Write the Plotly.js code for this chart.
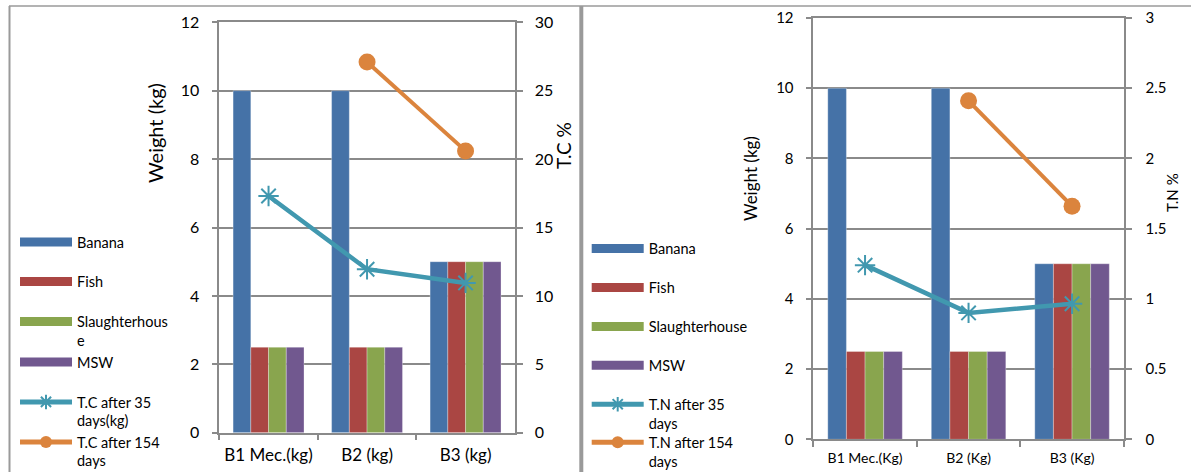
<!DOCTYPE html>
<html>
<head>
<meta charset="utf-8">
<script src="https://cdn.plot.ly/plotly-3.0.1.min.js"></script>
<style>
  html, body { margin: 0; padding: 0; background: #ffffff; }
  #chart { width: 1191px; height: 472px; }
</style>
</head>
<body>
<div id="chart"></div>
<script>
// Canvas size in pixels; all placement below is converted to paper fractions.
const W = 1191, H = 472;

// ---- data ----
const carbonBatches = ['B1 Mec.(kg)', 'B2 (kg)', 'B3 (kg)'];
const nitrogenBatches = ['B1 Mec.(Kg)', 'B2 (Kg)', 'B3 (Kg)'];

const feedstockNames = ['Banana', 'Fish', 'Slaughterhouse', 'MSW'];
const banana = [10, 10, 5];
const fish = [2.5, 2.5, 5];
const slaughterhouse = [2.5, 2.5, 5];
const msw = [2.5, 2.5, 5];

const tcAfter35 = [17.3, 11.95, 10.95];
const tcAfter154 = [null, 27.1, 20.6];
const tnAfter35 = [1.24, 0.9, 0.965];
const tnAfter154 = [null, 2.41, 1.66];

const carbonLegendText = ['Banana', 'Fish', 'Slaughterhous<br>e', 'MSW', 'T.C after 35<br>days(kg)', 'T.C after 154<br>days'];
const nitrogenLegendText = ['Banana', 'Fish', 'Slaughterhouse', 'MSW', 'T.N after 35<br>days', 'T.N after 154<br>days'];

const weightTicks = [0, 2, 4, 6, 8, 10, 12];
const carbonTicks = [0, 5, 10, 15, 20, 25, 30];
const nitrogenTicks = [0, 0.5, 1, 1.5, 2, 2.5, 3];
const nitrogenTickText = ['0', '0.5', '1', '1.5', '2', '2.5', '3'];

// ---- styling ----
const FONT = 'Lato, "Open Sans", sans-serif';
const GRID = '#8a8a8a';
const barColors = ['#4572A7', '#AA4643', '#89A54E', '#71588F'];
const tealColor = '#4198AF';
const orangeColor = '#DB843D';

const px = v => v / W;
const py = v => 1 - v / H;

function panelTraces(cfg) {
  const traces = [];
  const series = [banana, fish, slaughterhouse, msw];
  series.forEach((vals, i) => {
    traces.push({
      type: 'bar', x: cfg.cats, y: vals, name: feedstockNames[i],
      xaxis: cfg.xa, yaxis: cfg.ya, legendgroup: cfg.key + i,
      showlegend: false,
      marker: { color: barColors[i], line: { color: 'rgba(255,255,255,0.6)', width: 0.5 } },
      hoverinfo: 'x+y+name'
    });
    // legend swatch for the bar series, drawn as a wide flat band
    traces.push({
      type: 'scatter', mode: 'lines', x: [null], y: [null],
      name: cfg.legendText[i], xaxis: cfg.xa, yaxis: cfg.ya,
      legendgroup: cfg.key + i, legend: cfg.legends[i],
      line: { color: barColors[i], width: 9 }, hoverinfo: 'skip'
    });
  });
  traces.push({
    type: 'scatter', mode: 'lines+markers', x: cfg.cats, y: cfg.early,
    name: cfg.legendText[4], xaxis: cfg.xa, yaxis: cfg.ya2, legend: cfg.legends[4],
    line: { color: tealColor, width: 4.5 },
    marker: { symbol: 'asterisk-open', size: 17, color: tealColor, line: { color: tealColor, width: 2 } },
    connectgaps: false
  });
  traces.push({
    type: 'scatter', mode: 'lines+markers', x: cfg.cats, y: cfg.late,
    name: cfg.legendText[5], xaxis: cfg.xa, yaxis: cfg.ya2, legend: cfg.legends[5],
    line: { color: orangeColor, width: 4 },
    marker: { symbol: 'circle', size: 17, color: orangeColor },
    connectgaps: false
  });
  return traces;
}

const leftLegends = ['legend', 'legend2', 'legend3', 'legend4', 'legend5', 'legend6'];
const rightLegends = ['legend7', 'legend8', 'legend9', 'legend10', 'legend11', 'legend12'];

const data = [].concat(
  panelTraces({ key: 'c', cats: carbonBatches, xa: 'x', ya: 'y', ya2: 'y3',
                early: tcAfter35, late: tcAfter154, legendText: carbonLegendText, legends: leftLegends }),
  panelTraces({ key: 'n', cats: nitrogenBatches, xa: 'x2', ya: 'y2', ya2: 'y4',
                early: tnAfter35, late: tnAfter154, legendText: nitrogenLegendText, legends: rightLegends })
);

function legendBox(xLeft, yTop, size, isLine) {
  return {
    x: px(xLeft), y: py(yTop), xanchor: 'left', yanchor: 'top',
    xref: 'paper', yref: 'paper',
    bgcolor: 'rgba(0,0,0,0)', borderwidth: 0,
    font: { family: FONT, size: size, color: '#000000' },
    itemwidth: 52, valign: 'top', tracegroupgap: 0,
    itemclick: 'toggle', itemsizing: isLine ? 'constant' : 'trace'
  };
}

function sideTitle(text, x, y, size) {
  return { text: text, xref: 'paper', yref: 'paper', x: px(x), y: py(y),
           xanchor: 'center', yanchor: 'middle', textangle: -90, showarrow: false,
           font: { family: FONT, size: size, color: '#000000' } };
}

const layout = {
  width: W, height: H,
  margin: { l: 0, r: 0, t: 0, b: 0, pad: 0, autoexpand: false },
  paper_bgcolor: '#ffffff', plot_bgcolor: 'rgba(0,0,0,0)',
  font: { family: FONT, color: '#000000' },
  barmode: 'group', bargap: 0.28, bargroupgap: 0,
  hovermode: 'closest',
  xaxis: {
    domain: [px(219.3), px(514.8)], anchor: 'y', type: 'category',
    showline: true, linecolor: GRID, linewidth: 1.5, mirror: true,
    ticks: 'outside', tickson: 'boundaries', ticklen: 6, tickcolor: GRID, tickwidth: 1.5,
    tickfont: { family: FONT, size: 17 }, ticklabelstandoff: 6,
    showgrid: false, fixedrange: true
  },
  yaxis: {
    domain: [1 - 432.7 / H, 1 - 22.3 / H], anchor: 'x', range: [0, 12],
    tickvals: weightTicks, showline: true, linecolor: GRID, linewidth: 1.5,
    showgrid: true, gridcolor: GRID, gridwidth: 1.5, zeroline: false,
    ticks: 'outside', ticklen: 6, tickcolor: GRID, tickwidth: 1.5,
    tickfont: { family: FONT, size: 16 }, ticklabelstandoff: 9, fixedrange: true
  },
  yaxis3: {
    overlaying: 'y', side: 'right', anchor: 'x', range: [0, 30],
    tickvals: carbonTicks, showline: true, linecolor: GRID, linewidth: 1.5,
    showgrid: false, zeroline: false,
    ticks: 'outside', ticklen: 6, tickcolor: GRID, tickwidth: 1.5,
    tickfont: { family: FONT, size: 16 }, ticklabelstandoff: 9, fixedrange: true
  },
  xaxis2: {
    domain: [px(813.3), px(1123.8)], anchor: 'y2', type: 'category',
    showline: true, linecolor: GRID, linewidth: 1.5, mirror: true,
    ticks: 'outside', tickson: 'boundaries', ticklen: 6, tickcolor: GRID, tickwidth: 1.5,
    tickfont: { family: FONT, size: 14 }, ticklabelstandoff: 5,
    showgrid: false, fixedrange: true
  },
  yaxis2: {
    domain: [1 - 439.3 / H, 1 - 18 / H], anchor: 'x2', range: [0, 12],
    tickvals: weightTicks, showline: true, linecolor: GRID, linewidth: 1.5,
    showgrid: true, gridcolor: GRID, gridwidth: 1.5, zeroline: false,
    ticks: 'outside', ticklen: 6, tickcolor: GRID, tickwidth: 1.5,
    tickfont: { family: FONT, size: 15 }, ticklabelstandoff: 9, fixedrange: true
  },
  yaxis4: {
    overlaying: 'y2', side: 'right', anchor: 'x2', range: [0, 3],
    tickvals: nitrogenTicks, ticktext: nitrogenTickText,
    showline: true, linecolor: GRID, linewidth: 1.5,
    showgrid: false, zeroline: false,
    ticks: 'outside', ticklen: 6, tickcolor: GRID, tickwidth: 1.5,
    tickfont: { family: FONT, size: 15 }, ticklabelstandoff: 11, fixedrange: true
  },
  annotations: [
    sideTitle('Weight (kg)', 155, 133, 20),
    sideTitle('T.C %', 563, 146, 19),
    sideTitle('Weight (kg)', 750, 179, 17),
    sideTitle('T.N %', 1172, 193, 15)
  ],
  shapes: [
    { type: 'line', xref: 'paper', yref: 'paper', x0: px(9), x1: 1, y0: py(6), y1: py(6),
      line: { color: '#9a9a9a', width: 1.5 } },
    { type: 'line', xref: 'paper', yref: 'paper', x0: px(9.5), x1: px(9.5), y0: py(6), y1: 0,
      line: { color: '#9a9a9a', width: 2 } },
    { type: 'line', xref: 'paper', yref: 'paper', x0: px(581.3), x1: px(581.3), y0: py(6), y1: 0,
      line: { color: '#9a9a9a', width: 4 } }
  ]
};

// one legend box per entry so every entry keeps its own fixed slot
const leftSlots = [242.7, 282.3, 322.3, 362.7, 402.7, 442.7];
const rightSlots = [249.3, 288.3, 327.3, 366, 405, 443];
leftLegends.forEach((id, i) => { layout[id] = legendBox(15, leftSlots[i] - 16.7, 14.5, i >= 4); });
rightLegends.forEach((id, i) => { layout[id] = legendBox(586.7, rightSlots[i] - 16.7, 14.5, i >= 4); });

Plotly.newPlot('chart', data, layout, { displayModeBar: false, responsive: false });
</script>
</body>
</html>
